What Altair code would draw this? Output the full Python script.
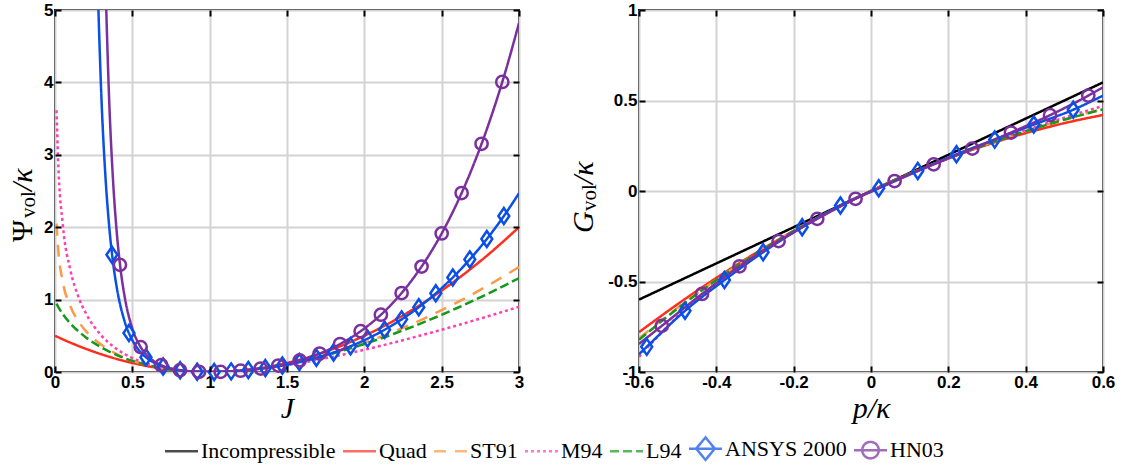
import altair as alt
import pandas as pd

# ---------------- data ----------------
SERIES = ["Incompressible", "Quad", "ST91", "M94", "L94", "ANSYS 2000", "HN03"]

# Left panel: Psi_vol / kappa versus J
QUAD_J = [0, 0.1, 0.2, 0.3, 0.4, 0.5, 0.6, 0.7, 0.8, 0.9, 1.0, 1.2, 1.4, 1.6, 1.8, 2.0, 2.2, 2.4, 2.6, 2.8, 3.0]
QUAD_PSI = [0.5, 0.405, 0.32, 0.245, 0.18, 0.125, 0.08, 0.045, 0.02, 0.005, 0, 0.02, 0.08, 0.18, 0.32, 0.5, 0.72, 0.98, 1.28, 1.62, 2.0]

LOG_J = [0.01, 0.02, 0.05, 0.1, 0.15, 0.2, 0.25, 0.3, 0.4, 0.5, 0.6, 0.7, 0.8, 0.9, 1.0,
         1.2, 1.4, 1.6, 1.8, 2.0, 2.2, 2.4, 2.6, 2.8, 3.0]
ST91_PSI = [2.05, 1.71, 1.25, 0.904, 0.704, 0.565, 0.459, 0.375, 0.248, 0.159, 0.096, 0.051, 0.022, 0.005, 0,
            0.019, 0.072, 0.155, 0.266, 0.403, 0.566, 0.752, 0.962, 1.195, 1.451]
M94_PSI = [3.615, 2.932, 2.046, 1.403, 1.047, 0.809, 0.636, 0.504, 0.316, 0.193, 0.111, 0.057, 0.023, 0.005, 0,
           0.018, 0.064, 0.130, 0.212, 0.307, 0.412, 0.525, 0.644, 0.770, 0.901]
L94_PSI = [0.944, 0.902, 0.800, 0.670, 0.565, 0.478, 0.403, 0.339, 0.234, 0.153, 0.094, 0.050, 0.022, 0.005, 0,
           0.019, 0.071, 0.152, 0.258, 0.386, 0.535, 0.701, 0.884, 1.083, 1.296]

ANSYS_J = [0.275, 0.3, 0.325, 0.35, 0.375, 0.4, 0.45, 0.5, 0.55, 0.6, 0.65, 0.7, 0.8, 0.9, 1.0, 1.1, 1.2, 1.3,
           1.4, 1.5, 1.6, 1.7, 1.8, 1.9, 2.0, 2.1, 2.2, 2.3, 2.4, 2.5, 2.6, 2.7, 2.8, 2.9, 3.0]
ANSYS_PSI = [5.40, 3.796, 2.739, 2.020, 1.518, 1.159, 0.701, 0.440, 0.282, 0.183, 0.118, 0.075, 0.027, 0.006, 0,
             0.005, 0.017, 0.038, 0.066, 0.102, 0.147, 0.202, 0.269, 0.347, 0.440, 0.547, 0.671, 0.813, 0.975,
             1.159, 1.366, 1.599, 1.859, 2.148, 2.469]

HN03_J = [0.325, 0.35, 0.375, 0.4, 0.425, 0.45, 0.5, 0.55, 0.6, 0.65, 0.7, 0.8, 0.9, 1.0, 1.1, 1.2, 1.3, 1.4,
          1.5, 1.6, 1.7, 1.8, 1.9, 2.0, 2.1, 2.2, 2.3, 2.4, 2.5, 2.6, 2.7, 2.8, 2.9, 3.0]
HN03_PSI = [5.48, 3.77, 2.657, 1.913, 1.402, 1.044, 0.601, 0.358, 0.219, 0.135, 0.082, 0.028, 0.006, 0, 0.005,
            0.018, 0.040, 0.071, 0.115, 0.172, 0.245, 0.339, 0.456, 0.601, 0.777, 0.991, 1.248, 1.553, 1.913,
            2.336, 2.830, 3.402, 4.062, 4.820]

ANSYS_MK_J = [0.368, 0.478, 0.588, 0.699, 0.809, 0.919, 1.029, 1.139, 1.250, 1.360, 1.470, 1.580, 1.690,
              1.801, 1.911, 2.021, 2.131, 2.241, 2.352, 2.462, 2.572, 2.682, 2.792, 2.902]
ANSYS_MK_PSI = [1.62, 0.538, 0.203, 0.076, 0.024, 0.004, 0.000, 0.009, 0.027, 0.054, 0.090, 0.137, 0.196,
                0.269, 0.357, 0.461, 0.584, 0.727, 0.895, 1.087, 1.306, 1.555, 1.837, 2.154]
HN03_MK_J = [0.42, 0.554, 0.687, 0.808, 0.931, 1.071, 1.2, 1.33, 1.444, 1.582, 1.711, 1.843, 1.976, 2.107,
             2.241, 2.37, 2.5, 2.629, 2.758, 2.892]
HN03_MK_PSI = [1.48, 0.344, 0.094, 0.025, 0.003, 0.002, 0.018, 0.048, 0.089, 0.160, 0.255, 0.386, 0.563,
               0.791, 1.091, 1.456, 1.913, 2.472, 3.152, 4.006]

# Right panel: G_vol / kappa versus p / kappa
P_GRID = [-0.6, -0.5, -0.4, -0.3, -0.2, -0.1, 0, 0.1, 0.2, 0.3, 0.4, 0.5, 0.6]
INC_G = [-0.6, -0.5, -0.4, -0.3, -0.2, -0.1, 0, 0.1, 0.2, 0.3, 0.4, 0.5, 0.6]
QUAD_G = [-0.78, -0.625, -0.48, -0.345, -0.22, -0.105, 0, 0.095, 0.18, 0.255, 0.32, 0.375, 0.42]
ST91_G = [-0.814, -0.645, -0.490, -0.349, -0.221, -0.105, 0, 0.095, 0.181, 0.259, 0.330, 0.395, 0.454]
M94_G = [-0.916, -0.693, -0.511, -0.357, -0.223, -0.105, 0, 0.095, 0.182, 0.262, 0.336, 0.405, 0.470]
L94_G = [-0.822, -0.649, -0.492, -0.350, -0.221, -0.105, 0, 0.095, 0.181, 0.259, 0.330, 0.394, 0.451]

ANSYS_P = [-0.6, -0.58, -0.481, -0.379, -0.279, -0.178, -0.079, 0.02, 0.121, 0.221, 0.320, 0.421, 0.523, 0.6]
ANSYS_G = [-0.902, -0.861, -0.662, -0.492, -0.338, -0.200, -0.080, 0.015, 0.111, 0.203, 0.284, 0.367, 0.449, 0.527]
HN03_P = [-0.6, -0.541, -0.437, -0.340, -0.239, -0.139, -0.040, 0.061, 0.162, 0.262, 0.362, 0.463, 0.562, 0.6]
HN03_G = [-0.845, -0.745, -0.569, -0.416, -0.277, -0.154, -0.043, 0.055, 0.147, 0.234, 0.323, 0.419, 0.527, 0.573]

ANSYS_MK_P = [-0.580, -0.481, -0.379, -0.279, -0.178, -0.079, 0.020, 0.121, 0.221, 0.320, 0.421, 0.523]
ANSYS_MK_G = [-0.861, -0.662, -0.492, -0.338, -0.200, -0.080, 0.015, 0.111, 0.203, 0.284, 0.367, 0.449]
HN03_MK_P = [-0.541, -0.437, -0.340, -0.239, -0.139, -0.040, 0.061, 0.162, 0.262, 0.362, 0.463, 0.562]
HN03_MK_G = [-0.745, -0.569, -0.416, -0.277, -0.154, -0.043, 0.055, 0.147, 0.234, 0.323, 0.419, 0.527]

LEFT_X_TICKS = [0, 0.5, 1, 1.5, 2, 2.5, 3]
LEFT_Y_TICKS = [0, 1, 2, 3, 4, 5]
RIGHT_X_TICKS = [-0.6, -0.4, -0.2, 0, 0.2, 0.4, 0.6]
RIGHT_Y_TICKS = [-1, -0.5, 0, 0.5, 1]

# y-axis titles, written as main symbol + upright subscript + "/kappa"
LEFT_Y_TITLE = ["Ψ", "vol", "/κ"]
RIGHT_Y_TITLE = ["G", "vol", "/κ"]

# ---------------- styles ----------------
COLORS = ["#000000", "#ff2e1f", "#fb9a4a", "#ff3fb4", "#14991a", "#0a4fe6", "#7a309e"]
DASHES = [[1, 0], [1, 0], [12, 9], [3, 3], [9, 4], [1, 0], [1, 0]]
LEG_SHAPES = [
    "M-1.1,0H1.1", "M-1.1,0H1.1", "M-1.1,0H1.1", "M-1.1,0H1.1", "M-1.1,0H1.1",
    "M-1.1,0H1.1M0,-0.75L0.62,0L0,0.75L-0.62,0Z",
    "M-1.1,0H1.1M0.55,0A0.55,0.55,0,1,1,-0.55,0A0.55,0.55,0,1,1,0.55,0Z",
]
DIAMOND = "M0,-1L0.68,0L0,1L-0.68,0Z"
GRID = "#d3d3d3"
TICK_FONT = "Liberation Sans"
MATH_FONT = "Liberation Serif"
TITLE_SIZE = 30
SUB_SIZE = 21


def frame(name, xs, ys):
    return pd.DataFrame({"series": name, "x": xs, "y": ys})


left_lines = pd.concat([
    frame("Quad", QUAD_J, QUAD_PSI),
    frame("ST91", LOG_J, ST91_PSI),
    frame("M94", LOG_J, M94_PSI),
    frame("L94", LOG_J, L94_PSI),
    frame("ANSYS 2000", ANSYS_J, ANSYS_PSI),
    frame("HN03", HN03_J, HN03_PSI),
], ignore_index=True)
right_lines = pd.concat([
    frame("Incompressible", P_GRID, INC_G),
    frame("Quad", P_GRID, QUAD_G),
    frame("ST91", P_GRID, ST91_G),
    frame("M94", P_GRID, M94_G),
    frame("L94", P_GRID, L94_G),
    frame("ANSYS 2000", ANSYS_P, ANSYS_G),
    frame("HN03", HN03_P, HN03_G),
], ignore_index=True)

color_scale = alt.Scale(domain=SERIES, range=COLORS)
dash_scale = alt.Scale(domain=SERIES, range=DASHES)
shape_scale = alt.Scale(domain=SERIES, range=LEG_SHAPES)

LEG = alt.Legend(
    orient="none", legendX=110, legendY=422, direction="horizontal", columns=7,
    title=None, symbolSize=900, symbolStrokeWidth=2.5, symbolFillColor="transparent",
    labelFont=MATH_FONT, labelFontSize=22, labelColor="black", labelOffset=3,
    columnPadding=2, labelLimit=0,
)


def main_axis(orient, values, title, title_pad):
    kw = dict(
        orient=orient, values=values, labelExpr="'' + datum.value",
        ticks=False, tickSize=0, domain=False, grid=True, gridColor=GRID, gridWidth=2,
        labelFont=TICK_FONT, labelFontSize=17, labelFontWeight="bold", labelColor="black",
        labelPadding=2, labelFlush=False, labelOverlap=False,
    )
    if title:
        kw.update(title=title, titleFont=MATH_FONT, titleFontSize=TITLE_SIZE, titleFontStyle="italic",
                  titleFontWeight="normal", titleColor="black", titlePadding=title_pad)
    else:
        kw.update(title=None)
    return alt.Axis(**kw)


def tick_axis(orient, values):
    return alt.Axis(
        orient=orient, values=values, offset=-6, tickSize=6, tickWidth=2, tickColor="black",
        labels=False, domain=False, grid=False, title=None, zindex=1,
    )


def y_title(parts, x0, y0, widths, main_italic):
    one = pd.DataFrame({"k": [0]})
    layers = []
    y = y0
    specs = [
        (parts[0], TITLE_SIZE, "italic" if main_italic else "normal", 0),
        (parts[1], SUB_SIZE, "normal", 3),
        (parts[2], TITLE_SIZE, "italic", 0),
    ]
    for (txt, size, style, dx), w in zip(specs, widths):
        layers.append(
            alt.Chart(one).mark_text(
                angle=270, align="left", baseline="alphabetic", font=MATH_FONT,
                fontSize=size, fontStyle=style, color="black",
            ).encode(x=alt.value(x0 + dx), y=alt.value(y), text=alt.value(txt))
        )
        y -= w
    return layers


def panel(lines_df, mx, my, cx, cy, xdom, ydom, xticks, yticks, xtitle, title_layers):
    xs = alt.Scale(domain=xdom, nice=False, zero=False)
    ys = alt.Scale(domain=ydom, nice=False, zero=False)
    base = alt.Chart(lines_df)
    t1 = base.mark_point(opacity=0, size=1, clip=True).encode(
        x=alt.X("x:Q", scale=xs, axis=tick_axis("bottom", xticks)),
        y=alt.Y("y:Q", scale=ys, axis=tick_axis("left", yticks)),
    )
    t2 = base.mark_point(opacity=0, size=1, clip=True).encode(
        x=alt.X("x:Q", scale=xs, axis=tick_axis("top", xticks)),
        y=alt.Y("y:Q", scale=ys, axis=tick_axis("right", yticks)),
    )
    lines = base.mark_line(strokeWidth=2.5, clip=True, interpolate="monotone").encode(
        x=alt.X("x:Q", scale=xs, axis=main_axis("bottom", xticks, xtitle, 3)),
        y=alt.Y("y:Q", scale=ys, axis=main_axis("left", yticks, None, 0)),
        color=alt.Color("series:N", scale=color_scale, legend=LEG),
        strokeDash=alt.StrokeDash("series:N", scale=dash_scale, legend=LEG),
    )
    diam = alt.Chart(pd.DataFrame({"x": mx, "y": my})).mark_point(
        shape=DIAMOND, size=256, filled=False, strokeWidth=2.5, color=COLORS[5], opacity=1
    ).encode(x=alt.X("x:Q", scale=xs, axis=None), y=alt.Y("y:Q", scale=ys, axis=None))
    circ = alt.Chart(pd.DataFrame({"x": cx, "y": cy})).mark_point(
        shape="circle", size=150, filled=False, strokeWidth=2.5, color=COLORS[6], opacity=1
    ).encode(x=alt.X("x:Q", scale=xs, axis=None), y=alt.Y("y:Q", scale=ys, axis=None))
    leg_df = pd.DataFrame({"series": SERIES, "x": [xdom[0] - 50] * len(SERIES), "y": [ydom[0] - 50] * len(SERIES)})
    dummy = alt.Chart(leg_df).mark_point(filled=False, clip=True, strokeWidth=2.5).encode(
        x=alt.X("x:Q", scale=xs, axis=None),
        y=alt.Y("y:Q", scale=ys, axis=None),
        color=alt.Color("series:N", scale=color_scale, legend=LEG),
        shape=alt.Shape("series:N", scale=shape_scale, legend=LEG),
        strokeDash=alt.StrokeDash("series:N", scale=dash_scale, legend=LEG),
    )
    return alt.layer(t1, t2, lines, diam, circ, dummy, *title_layers).resolve_axis(
        x="independent", y="independent"
    ).properties(width=464, height=362)


left = panel(left_lines, ANSYS_MK_J, ANSYS_MK_PSI, HN03_MK_J, HN03_MK_PSI,
             [0, 3], [0, 5], LEFT_X_TICKS, LEFT_Y_TICKS, "J",
             y_title(LEFT_Y_TITLE, -23, 232, [24, 27, 30], False))
right = panel(right_lines, ANSYS_MK_P, ANSYS_MK_G, HN03_MK_P, HN03_MK_G,
              [-0.6, 0.6], [-1, 1], RIGHT_X_TICKS, RIGHT_Y_TICKS, "p/κ",
              y_title(RIGHT_Y_TITLE, -46, 223, [22, 27, 30], True))

chart = alt.hconcat(left, right, spacing=120).resolve_scale(
    color="shared", shape="shared", strokeDash="shared"
).properties(
    bounds="flush", padding={"left": 7, "top": 0, "right": 0, "bottom": 0}
).configure_view(
    stroke="black", strokeWidth=2
).configure_legend(
    labelFont=MATH_FONT, labelFontSize=22, labelColor="black", symbolStrokeWidth=2.5,
    symbolFillColor="transparent",
)

chart.save("out.html", embed_options={"renderer": "svg", "actions": False})
